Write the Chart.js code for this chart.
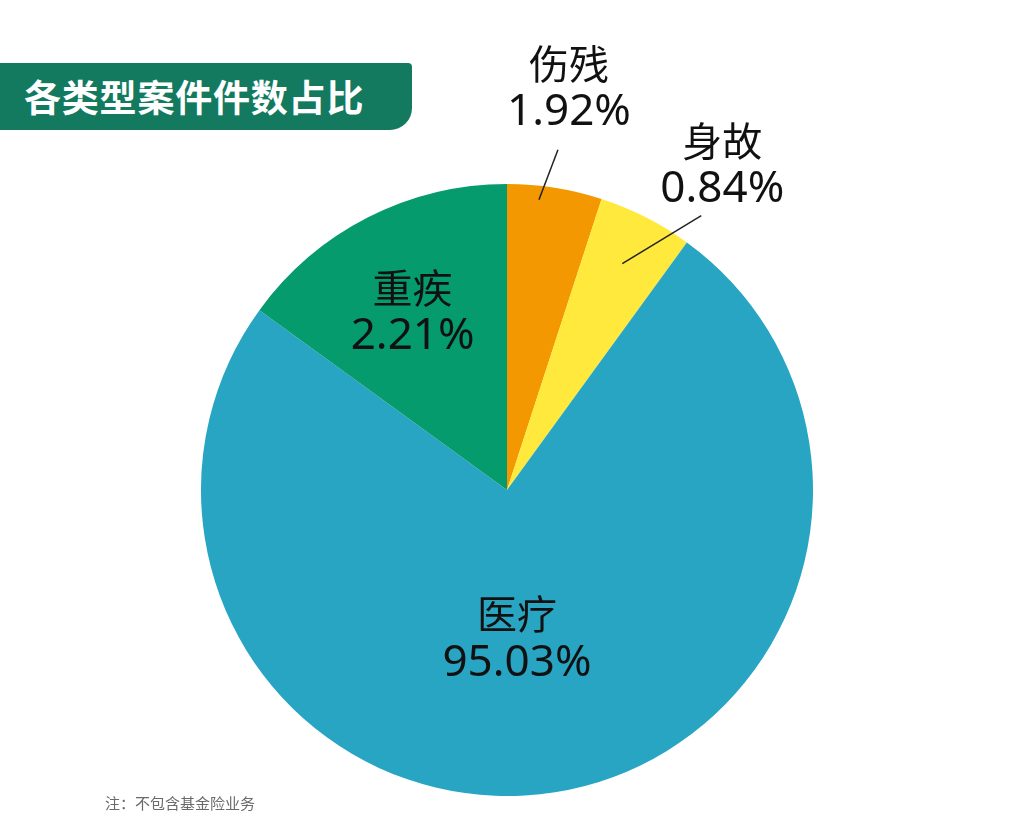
<!DOCTYPE html>
<html>
<head>
<meta charset="utf-8">
<script src="https://cdn.jsdelivr.net/npm/chart.js@4/dist/chart.umd.min.js"></script>
<style>
  body { margin: 0; background: #fff; font-family: "Noto Sans CJK SC", "Noto Sans", sans-serif; }
  #wrap { position: relative; width: 1011px; height: 840px; overflow: hidden; }
  #chart { position: absolute; left: 0; top: 0; }
  .banner {
    position: absolute; left: 0; top: 63px; width: 412px; height: 67px;
    background: #137a5f; border-radius: 0 4px 22px 0;
    color: #fff; font-weight: 700; font-size: 37px; line-height: 67px;
    padding-left: 24px; box-sizing: border-box; letter-spacing: 0.8px;
  }
  .note { position: absolute; left: 105px; top: 792px; font-size: 15px; color: #6a6a6a; }
</style>
</head>
<body>
<div id="wrap">
  <canvas id="chart" width="1011" height="840"></canvas>
  <div class="banner">各类型案件件数占比</div>
  <div class="note">注：不包含基金险业务</div>
</div>
<script>
// 数据
const categories = ['伤残', '身故', '医疗', '重疾'];
const percentLabels = [1.92, 0.84, 95.03, 2.21];   // 图中标注的占比
const drawnShares = [5, 5, 75, 15];                 // 图中扇区实际画出的大小
const sliceColors = ['#f39800', '#ffe93c', '#28a5c3', '#059b6c'];

// 标签摆放方式（外部标签带引线）
const labelStyle = [
  { outside: true, r0: 0.96, ox: -14, dx: 19, dy: -50, tx: 11, ty: -86 },
  { outside: true, r0: 0.83, ox: 0, dx: 79, dy: -48, tx: 21, ty: -75 },
  { outside: false, r: 0.5, ox: -14, oy: -2 },
  { outside: false, r: 0.665, ox: -2, oy: 4 }
];

const labelPlugin = {
  id: 'sliceLabels',
  afterDatasetsDraw(chart) {
    const ctx = chart.ctx;
    const meta = chart.getDatasetMeta(0);
    ctx.save();
    ctx.fillStyle = '#111';
    ctx.textAlign = 'center';
    ctx.textBaseline = 'middle';
    meta.data.forEach((arc, i) => {
      const mid = (arc.startAngle + arc.endAngle) / 2;
      const R = arc.outerRadius;
      const st = labelStyle[i];
      const name = categories[i];
      const val = percentLabels[i].toFixed(2) + '%';
      let x, y;
      if (st.outside) {
        const sx = arc.x + Math.cos(mid) * R * st.r0 + st.ox;
        const sy = arc.y + Math.sin(mid) * R * st.r0;
        const ex = sx + st.dx, ey = sy + st.dy;
        ctx.strokeStyle = '#222';
        ctx.lineWidth = 1.5;
        ctx.beginPath();
        ctx.moveTo(sx, sy);
        ctx.lineTo(ex, ey);
        ctx.stroke();
        x = ex + st.tx;
        y = ey + st.ty;
      } else {
        x = arc.x + Math.cos(mid) * R * st.r + st.ox;
        y = arc.y + Math.sin(mid) * R * st.r - 25 + st.oy;
      }
      ctx.font = '40px "Noto Sans CJK SC", sans-serif';
      ctx.fillText(name, x, y);
      ctx.font = '44px "Noto Sans", "Noto Sans CJK SC", sans-serif';
      ctx.fillText(val, x, y + 49);
    });
    ctx.restore();
  }
};

new Chart(document.getElementById('chart'), {
  type: 'pie',
  data: {
    labels: categories,
    datasets: [{
      data: drawnShares,
      backgroundColor: sliceColors,
      borderWidth: 0
    }]
  },
  options: {
    responsive: false,
    animation: false,
    layout: { padding: { left: 201, right: 198, top: 184, bottom: 44 } },
    plugins: {
      legend: { display: false },
      tooltip: { enabled: false }
    }
  },
  plugins: [labelPlugin]
});
</script>
</body>
</html>
